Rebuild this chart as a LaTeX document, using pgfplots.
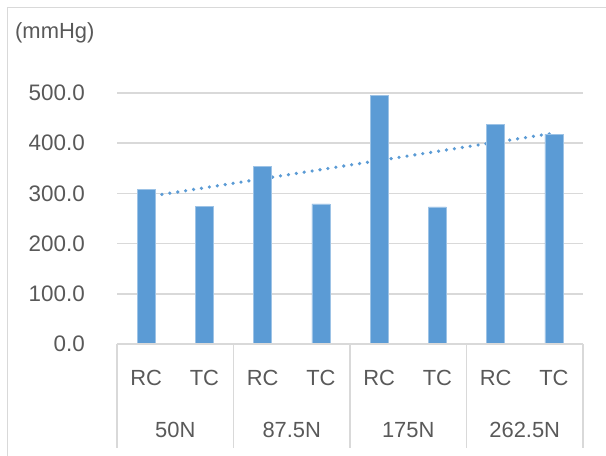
\documentclass[border=0pt]{standalone}
\usepackage{fontspec}
\setmainfont{Liberation Sans}
\usepackage{pgfplots}
\pgfplotsset{compat=1.18}
\definecolor{barblue}{HTML}{5B9BD5}
\definecolor{txt}{HTML}{595959}
\definecolor{grd}{HTML}{D9D9D9}
\begin{document}
\begin{tikzpicture}
\useasboundingbox (0bp,0bp) rectangle (606bp,456bp);
\draw[grd, line width=1.5bp] (7.5bp,0bp) -- (7.5bp,448.5bp) -- (612bp,448.5bp);
\node[anchor=west, text=txt, font=\fontsize{22}{26}\selectfont, inner sep=0pt] at (15bp,423.5bp) {(mmHg)};
\begin{axis}[
  at={(117bp,112bp)}, anchor=south west,
  scale only axis, width=466bp, height=251bp,
  xmin=-0.5, xmax=7.5, ymin=0, ymax=500,
  axis line style={draw=none},
  tick style={draw=none},
  ymajorgrids, grid style={grd, line width=1.5bp},
  ytick={0,100,200,300,400,500},
  yticklabel style={anchor=east, inner sep=0pt, xshift=-32bp, text=txt, font=\fontsize{22.5}{26}\selectfont},
  /pgf/number format/.cd, fixed, fixed zerofill, precision=1, assume math mode=true,
  /pgfplots/.cd,
  xtick={0,1,2,3,4,5,6,7},
  xticklabels={RC,TC,RC,TC,RC,TC,RC,TC},
  xticklabel style={anchor=center, inner sep=0pt, yshift=-34bp, text=txt, font=\fontsize{22}{26}\selectfont},
  clip=false,
]
\addplot[barblue, line width=3.6bp, line cap=round, dash pattern=on 0bp off 8bp, forget plot] coordinates {(0,293) (7,420)};
\addplot[ybar, bar width=18bp, fill=barblue, draw=barblue!60!white, line width=0.6bp] coordinates {
(0,308) (1,274) (2,353) (3,279) (4,496) (5,273) (6,438) (7,418)};
\draw[grd, line width=1.5bp] (axis cs:-0.5,0) -- (axis cs:7.5,0);
\draw[grd, line width=1.5bp] (axis cs:-0.5,0) -- ++(0bp,-104bp);
\draw[grd, line width=1.5bp] (axis cs:1.5,0) -- ++(0bp,-104bp);
\draw[grd, line width=1.5bp] (axis cs:3.5,0) -- ++(0bp,-104bp);
\draw[grd, line width=1.5bp] (axis cs:5.5,0) -- ++(0bp,-104bp);
\draw[grd, line width=1.5bp] (axis cs:7.5,0) -- ++(0bp,-104bp);
\node[text=txt, font=\fontsize{22}{26}\selectfont, inner sep=0pt] at ([yshift=-86bp]axis cs:0.5,0) {50N};
\node[text=txt, font=\fontsize{22}{26}\selectfont, inner sep=0pt] at ([yshift=-86bp]axis cs:2.5,0) {87.5N};
\node[text=txt, font=\fontsize{22}{26}\selectfont, inner sep=0pt] at ([yshift=-86bp]axis cs:4.5,0) {175N};
\node[text=txt, font=\fontsize{22}{26}\selectfont, inner sep=0pt] at ([yshift=-86bp]axis cs:6.5,0) {262.5N};
\end{axis}
\end{tikzpicture}
\end{document}
